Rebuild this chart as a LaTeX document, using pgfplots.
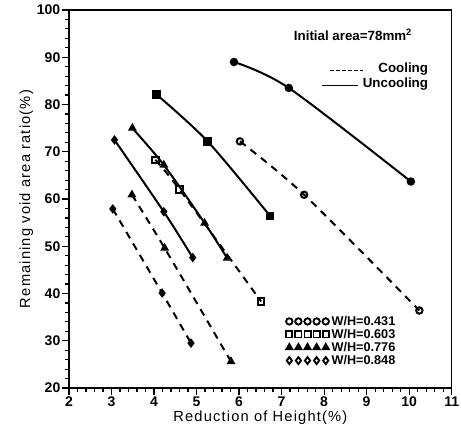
\documentclass[border=0pt]{standalone}
\usepackage{fontspec}
\setmainfont{Liberation Sans}
\usepackage{pgfplots}
\pgfplotsset{compat=1.18}

\begin{document}
\begin{tikzpicture}
\begin{axis}[
    width=287pt, height=283.5pt, scale only axis,
    xmin=2, xmax=11, ymin=20, ymax=100,
    xtick={2,...,11}, ytick={20,30,...,100},
    minor x tick num=4, minor y tick num=4,
    xtick pos=bottom, ytick pos=left,
    tick align=outside,
    major tick length=5pt, minor tick length=3pt,
    tick style={line width=0.9pt, black},
    axis line style={line width=1.2pt},
    /pgf/number format/assume math mode=true,
    ticklabel style={font=\bfseries\fontsize{10.5}{12}\selectfont},
    xticklabel style={yshift=2pt},
    yticklabel style={xshift=2pt},
    xlabel={Reduction of Height(\%)},
    ylabel={Remaining void area ratio(\%)},
    label style={font=\fontsize{11}{13}\selectfont\addfontfeature{LetterSpace=8}},
    xlabel style={yshift=4pt},
    ylabel style={yshift=-4pt},
    every axis plot/.append style={black, line width=1.5pt, smooth, tension=0.5, mark size=2.4pt},
    legend style={at={(axis cs:7.1,24.0)}, anchor=south west, draw=none, fill=none,
        font=\bfseries\fontsize{9.5}{9.5}\selectfont, row sep=-2.6pt, inner sep=0pt,
        /tikz/every even column/.append style={column sep=1pt}},
    legend cell align=left,
    legend image code/.code={\draw[only marks,#1] plot coordinates
        {(0cm,0cm) (0.24cm,0cm) (0.48cm,0cm) (0.72cm,0cm) (0.96cm,0cm)};},
]
\coordinate (bl) at (rel axis cs:0,0);
\coordinate (tr) at (rel axis cs:1,1);

% Uncooling (solid)
\addplot[mark=*, forget plot] coordinates {(5.88,89.0) (7.17,83.5) (10.04,63.7)};
\addplot[mark=square*, forget plot] coordinates {(4.06,82.1) (5.26,72.2) (6.73,56.4)};
\addplot[mark=triangle*, forget plot] coordinates {(3.49,75.0) (4.23,67.2) (5.19,54.9) (5.72,47.5)};
\addplot[mark=diamond*, forget plot] coordinates {(3.07,72.5) (4.23,57.3) (4.91,47.6)};

% Cooling (dashed)
\addplot[dash pattern=on 5.5pt off 4.5pt, mark=o, mark options={solid, fill=white}, forget plot]
    coordinates {(6.02,72.2) (7.53,60.9) (10.24,36.4)};
\addplot[dash pattern=on 5.5pt off 4.5pt, mark=square, mark options={solid, fill=white}, forget plot]
    coordinates {(4.03,68.3) (4.60,62.0) (6.52,38.3)};
\addplot[dash pattern=on 5.5pt off 4.5pt, mark=triangle*, mark options={solid}, forget plot]
    coordinates {(3.48,60.9) (4.25,49.6) (5.81,25.6)};
\addplot[dash pattern=on 5.5pt off 4.5pt, mark=diamond*, mark options={solid}, forget plot]
    coordinates {(3.03,57.9) (4.19,40.1) (4.87,29.5)};

\addlegendimage{black, mark=o, mark size=2.4pt, line width=1.4pt}
\addlegendentry{W/H=0.431}
\addlegendimage{black, mark=square, mark size=2.3pt, line width=1.4pt}
\addlegendentry{W/H=0.603}
\addlegendimage{black, mark=triangle*, mark size=2.5pt}
\addlegendentry{W/H=0.776}
\addlegendimage{black, mark=diamond, mark size=2.6pt, line width=1.4pt}
\addlegendentry{W/H=0.848}

% line-style key
\node[font=\bfseries\fontsize{10}{11}\selectfont] at (axis cs:8.68,94.8) {Initial area=78mm\textsuperscript{2}};
\draw[line width=1.3pt, dash pattern=on 3.5pt off 1pt] (axis cs:8.13,87.2) -- (axis cs:8.91,87.2);
\draw[line width=1.3pt] (axis cs:7.95,84.0) -- (axis cs:8.8,84.0);
\node[anchor=east, font=\bfseries\fontsize{10}{11}\selectfont, inner sep=0pt] at (axis cs:10.45,87.6) {Cooling};
\node[anchor=east, font=\bfseries\fontsize{10}{11}\selectfont, inner sep=0pt] at (axis cs:10.45,84.4) {Uncooling};
\end{axis}
\pgfresetboundingbox
\path[use as bounding box] ([shift={(-51.75pt,-32.25pt)}]bl) rectangle ([shift={(7pt,7.5pt)}]tr);
\end{tikzpicture}
\end{document}
